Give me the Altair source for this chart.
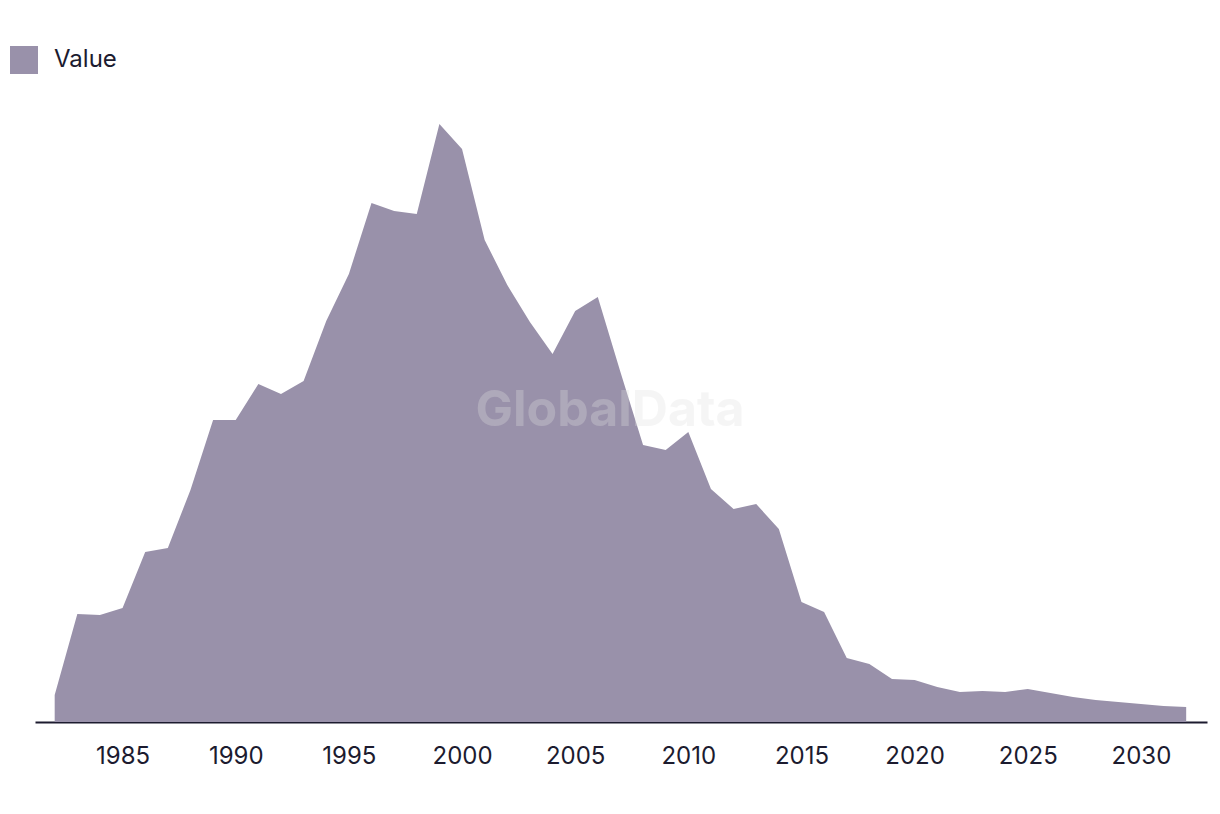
import altair as alt
import pandas as pd

years = list(range(1982, 2033))
values = [27, 108, 107, 114, 170, 174, 232, 302, 302, 338, 328, 341,
          401, 448, 519, 511, 508, 598, 573, 482, 437, 400, 368, 411,
          425, 350, 277, 272, 290, 233, 213, 218, 193, 120, 110, 64,
          58, 43, 42, 35, 30, 31, 30, 33, 29, 25, 22, 20, 18, 16, 15]
series = ["Value"] * len(years)
tick_years = [1985, 1990, 1995, 2000, 2005, 2010, 2015, 2020, 2025, 2030]
watermark = "GlobalData"

df = pd.DataFrame({"year": years, "value": values, "series": series})

FONT = "Inter"
TEXT_COLOR = "#1c1b2f"
AREA_COLOR = "#9991aa"

area = alt.Chart(df).mark_area(opacity=1, interpolate="linear").encode(
    x=alt.X("year:Q",
            scale=alt.Scale(domain=[1981.13, 2032.92], nice=False, zero=False),
            axis=alt.Axis(values=tick_years, format="d", title=None, grid=False,
                          ticks=False, labelFontSize=24, labelFont=FONT,
                          labelColor=TEXT_COLOR, labelPadding=22,
                          domainColor=TEXT_COLOR, domainWidth=1.8,
                          labelFlush=False)),
    y=alt.Y("value:Q", scale=alt.Scale(domain=[0, 640], nice=False), axis=None),
    color=alt.Color("series:N",
                    scale=alt.Scale(domain=["Value"], range=[AREA_COLOR]),
                    legend=alt.Legend(title=None, orient="none", legendX=-25, legendY=-36,
                                      symbolType="square", symbolSize=784,
                                      symbolStrokeWidth=0, symbolOpacity=1,
                                      labelFontSize=24, labelFont=FONT,
                                      labelColor=TEXT_COLOR, labelOffset=16,
                                      padding=0)),
)

wm = alt.Chart(pd.DataFrame({"t": [watermark]})).mark_text(
    fontSize=50, fontWeight="bold", font=FONT, color="#e0e0e0", opacity=0.3,
    align="center", baseline="middle"
).encode(text="t:N", x=alt.value(575), y=alt.value(329))

chart = alt.layer(area, wm).properties(
    width=1172, height=640,
    autosize=alt.AutoSizeParams(type="none"),
    padding={"left": 27, "top": 74, "right": 5, "bottom": 70},
).configure_view(stroke=None)

chart.save("out.html", embed_options={"renderer": "svg", "actions": False})
